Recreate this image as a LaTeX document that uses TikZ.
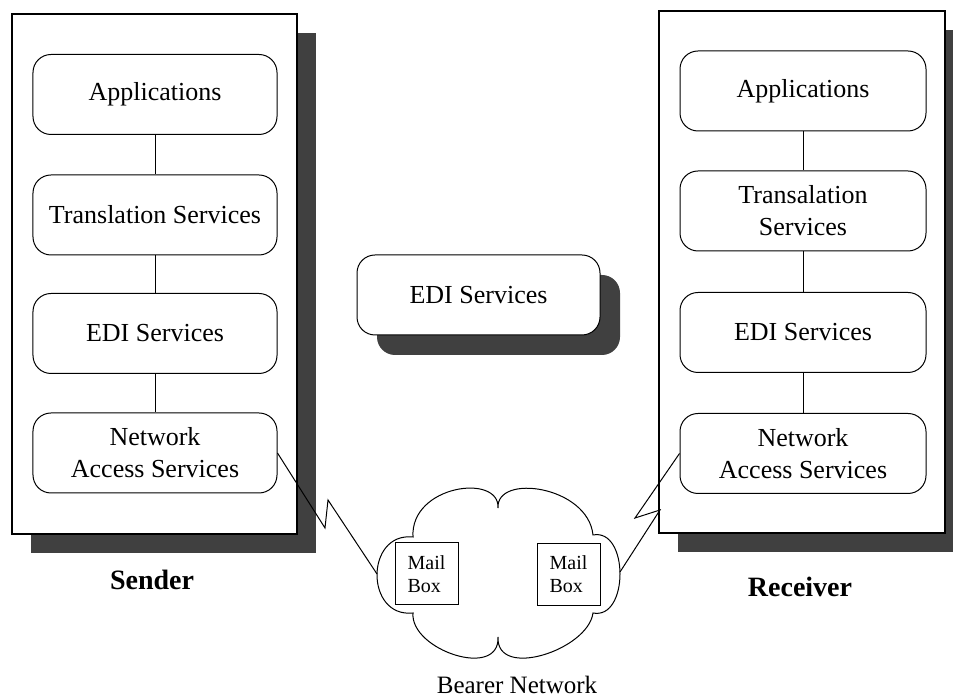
\documentclass[tikz,border=0pt]{standalone}
\usepackage{fontspec}
\setmainfont{Liberation Serif}
\usetikzlibrary{shadows}
\begin{document}
\begin{tikzpicture}[x=1bp, y=1bp,
    frame/.style={draw, fill=white, line width=1.1bp, minimum width=285bp, minimum height=520bp,
      drop shadow={shadow xshift=19bp, shadow yshift=-19bp, fill=black!75, opacity=1}},
    layer/.style={draw, fill=white, rounded corners=18bp, line width=1bp, minimum width=244bp,
      minimum height=80bp, align=center, font=\fontsize{26bp}{32bp}\selectfont},
    mailbox/.style={draw, fill=white, line width=1bp, minimum width=63bp, minimum height=62bp,
      align=left, font=\fontsize{20bp}{23bp}\selectfont},
    caption/.style={font=\fontsize{28bp}{34bp}\selectfont\bfseries}]
    \useasboundingbox (0,0) rectangle (953,700);

    % sender side
    \node [frame] (sender) at (154.5,426) {};
    \node [layer] (sapp) at (155,605.5) {Applications};
    \node [layer] (strans) at (155,485) {Translation Services};
    \node [layer] (sedi) at (155,366.5) {EDI Services};
    \node [layer] (snet) at (155,247) {Network\\Access Services};
    \draw [line width=1bp] (sapp) -- (strans); \draw [line width=1bp] (strans) -- (sedi); \draw [line width=1bp] (sedi) -- (snet);
    \node [caption] (slabel) at (152,120) {Sender};

    % receiver side
    \node [frame, minimum width=286bp, minimum height=522bp] (receiver) at (802,428) {};
    \node [layer, minimum width=246bp] (rapp) at (803,609) {Applications};
    \node [layer, minimum width=246bp] (rtrans) at (803,489) {Transalation\\Services};
    \node [layer, minimum width=246bp] (redi) at (803,367.5) {EDI Services};
    \node [layer, minimum width=246bp] (rnet) at (803,246.5) {Network\\Access Services};
    \draw [line width=1bp] (rapp) -- (rtrans); \draw [line width=1bp] (rtrans) -- (redi); \draw [line width=1bp] (redi) -- (rnet);
    \node [caption] (rlabel) at (800,113) {Receiver};

    % middle
    \node [layer, minimum width=243bp, drop shadow={shadow xshift=20bp, shadow yshift=-20bp, fill=black!75, opacity=1}] (medi) at (478.5,405) {EDI Services};

    % bearer network cloud
    \draw [line width=1bp, fill=white] (413,87) .. controls (365,82) and (365,168) .. (413,163)
      .. controls (410,215) and (500,227) .. (498,192)
      .. controls (496,227) and (588,214) .. (593,165)
      .. controls (629,172) and (629,80) .. (593,87)
      .. controls (588,50) and (496,20) .. (498,63)
      .. controls (500,20) and (410,50) .. (413,87) -- cycle;
    \coordinate (cloudW) at (377,126);
    \coordinate (cloudE) at (620,128);
    \node [mailbox] (smail) at (426.5,126) {Mail\\Box};
    \node [mailbox] (rmail) at (568.5,125.5) {Mail\\Box};
    \node [inner sep=1bp, font=\fontsize{25bp}{30bp}\selectfont] (bearer) at (517,15) {Bearer Network};

    % links to the network
    \coordinate (sz1) at (325,172); \coordinate (sz2) at (328,200);
    \coordinate (rz1) at (660,190); \coordinate (rz2) at (635,182);
    \draw [line width=1bp] (snet.east) -- (sz1) -- (sz2) -- (cloudW);
    \draw [line width=1bp] (cloudE) -- (rz1) -- (rz2) -- (rnet.west);
\end{tikzpicture}
\end{document}
